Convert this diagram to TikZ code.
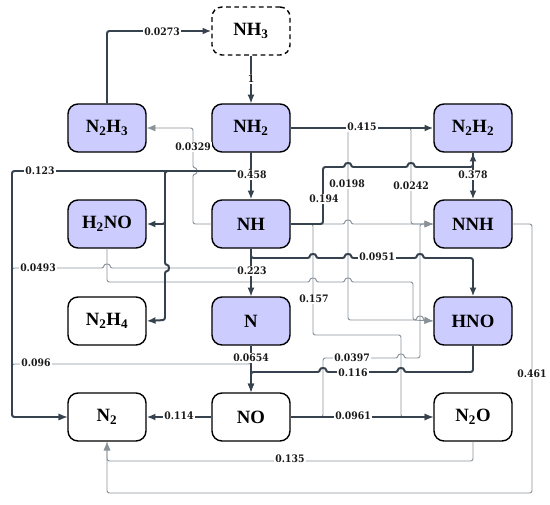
\documentclass[tikz,border=0pt]{standalone}
\usepackage{fontspec}
\setmainfont{Liberation Serif}
\newfontfamily\lblfont{DejaVu Serif Condensed}
\usetikzlibrary{arrows.meta}
\definecolor{lav}{HTML}{CCCCFF}
\definecolor{edark}{HTML}{36424D}
\definecolor{egrey}{HTML}{8A9299}
% hops: horizontal right / left, vertical down / up
\newcommand\hopR[2]{-- ({#1-3},#2) .. controls ({#1-3},{#2-4.5}) and ({#1+3},{#2-4.5}) .. ({#1+3},#2)}
\newcommand\hopL[2]{-- ({#1+3},#2) .. controls ({#1+3},{#2-4.5}) and ({#1-3},{#2-4.5}) .. ({#1-3},#2)}
\newcommand\hopD[2]{-- (#1,{#2-3}) .. controls ({#1+4.5},{#2-3}) and ({#1+4.5},{#2+3}) .. (#1,{#2+3})}
\newcommand\hopU[2]{-- (#1,{#2+3}) .. controls ({#1+4.5},{#2+3}) and ({#1+4.5},{#2-3}) .. (#1,{#2-3})}
\begin{document}
\begin{tikzpicture}[x=0.03cm,y=-0.03cm,
 box/.style={draw=black, line width=1.2pt, rounded corners=0.3cm, minimum width=2.34cm, minimum height=1.44cm, inner sep=0pt, font=\bfseries\fontsize{16}{16}\selectfont, fill=white},
 filled/.style={box, fill=lav},
 tipstyle/.style={-{Latex[length=7.5pt,width=6pt]}},
 ethick/.style={draw=edark, line width=1.7pt, rounded corners=2pt, tipstyle},
 emed/.style={draw=edark, line width=1.0pt, rounded corners=2pt, tipstyle},
 ethin/.style={draw=egrey, line width=0.8pt, rounded corners=2pt, tipstyle},
 lbl/.style={fill=white, inner sep=1pt, font=\lblfont\bfseries\fontsize{8.8}{9}\selectfont, text=black!90}
]
\useasboundingbox (0,0) rectangle (550,505);

% nodes
\node[box, dash pattern=on 4pt off 3pt] (NH3) at (251,31) {NH\textsubscript{3}};
\node[filled] (N2H3) at (107,128) {N\textsubscript{2}H\textsubscript{3}};
\node[filled] (NH2) at (251,128) {NH\textsubscript{2}};
\node[filled] (N2H2) at (473,128) {N\textsubscript{2}H\textsubscript{2}};
\node[filled] (H2NO) at (107,224) {H\textsubscript{2}NO};
\node[filled] (NH) at (251,224) {NH};
\node[filled] (NNH) at (473,224) {NNH};
\node[box] (N2H4) at (107,321) {N\textsubscript{2}H\textsubscript{4}};
\node[filled] (N) at (251,321) {N};
\node[filled] (HNO) at (473,321) {HNO};
\node[box] (N2) at (107,417) {N\textsubscript{2}};
\node[box] (NO) at (251,417) {NO};
\node[box] (N2O) at (473,417) {N\textsubscript{2}O};

% thin grey connectors
\draw[ethin] (NH.west) -- (193,224) \hopU{193}{171} -- (193,128) -- (N2H3.east);
\draw[ethin] (NH2.east) -- (348,128) -- (348,320) \hopR{420}{320} -- (HNO.west);
\draw[ethin] (NH2.east) -- (411,128) -- (411,224) -- (NNH.west);
\draw[ethin] (NH.south) -- (251,268) \hopL{107}{268} -- (12,268) -- (12,417) -- (N2.west);
\draw[ethin] (H2NO.south) -- (107,282) \hopR{313}{282} \hopR{348}{282} -- (413,282) -- (413,320) -- (HNO.west);
\draw[ethin] (NH.east) -- (313,224) -- (313,335) -- (401,335) -- (401,417) -- (N2O.west);
\draw[ethin] (NH.east) \hopR{348}{224} -- (NNH.west);
\draw[ethin] (NO.east) -- (323,417) -- (323,358) \hopR{401}{358} -- (420,358) -- (420,224) -- (NNH.west);
\draw[ethin] (N.south) -- (251,364) -- (12,364) -- (12,417) -- (N2.west);
\draw[ethin] (N2O.south) -- (473,461) -- (107,461) -- (N2.south);
\draw[ethin] (NNH.east) -- (532,224) -- (532,493) -- (107,493) -- (N2.south);

% medium connectors
\draw[emed] (NH3.south) -- (NH2.north);
\draw[emed] (NH.south) -- (N.north);
\draw[emed] (N.south) -- (NO.north);
\draw[emed] (NO.east) -- (N2O.west);

% thick connectors
\draw[ethick] (N2H3.north) |- (NH3.west);
\draw[ethick] (NH2.south) -- (NH.north);
\draw[ethick] (NH2.east) -- (N2H2.west);
\draw[ethick] (NH2.south) -- (251,171) -- (12,171) -- (12,417) -- (N2.west);
\draw[ethick] (NH2.south) -- (251,171) -- (165,171) -- (165,224) -- (H2NO.east);
\draw[ethick] (NH2.south) -- (251,171) -- (165,171) \hopD{165}{268} -- (165,320) -- (N2H4.east);
\draw[ethick] (NH.east) -- (323,224) -- (323,167) \hopR{348}{167} \hopR{411}{167} -- (473,167) -- (N2H2.south);
\draw[ethick] (N2H2.south) -- (NNH.north);
\draw[ethick] (NH.south) -- (251,258) \hopR{313}{258} \hopR{348}{258} \hopR{420}{258} -- (473,258) -- (HNO.north);
\draw[ethick] (HNO.south) -- (473,372) \hopL{401}{372} \hopL{323}{372} -- (251,372) -- (NO.north);
\draw[ethick] (NO.west) -- (N2.east);

% labels
\node[lbl] (l01) at (251,79) {1};
\node[lbl] (l02) at (162,32) {0.0273};
\node[lbl] (l03) at (193,147) {0.0329};
\node[lbl] (l04) at (252,175) {0.458};
\node[lbl] (l05) at (362,127) {0.415};
\node[lbl] (l06) at (40,171) {0.123};
\node[lbl] (l07) at (324,199) {0.194};
\node[lbl] (l08) at (473,175) {0.378};
\node[lbl] (l09) at (347,184) {0.0198};
\node[lbl] (l10) at (411,186) {0.0242};
\node[lbl] (l11) at (377,257) {0.0951};
\node[lbl] (l12) at (252,271) {0.223};
\node[lbl] (l13) at (38,268) {0.0493};
\node[lbl] (l14) at (314,299) {0.157};
\node[lbl] (l15) at (352,358) {0.0397};
\node[lbl] (l16) at (353,373) {0.116};
\node[lbl] (l17) at (251,358) {0.0654};
\node[lbl] (l18) at (36,363) {0.096};
\node[lbl] (l19) at (179,416) {0.114};
\node[lbl] (l20) at (353,416) {0.0961};
\node[lbl] (l21) at (290,459) {0.135};
\node[lbl] (l22) at (532,374) {0.461};
\end{tikzpicture}
\end{document}
